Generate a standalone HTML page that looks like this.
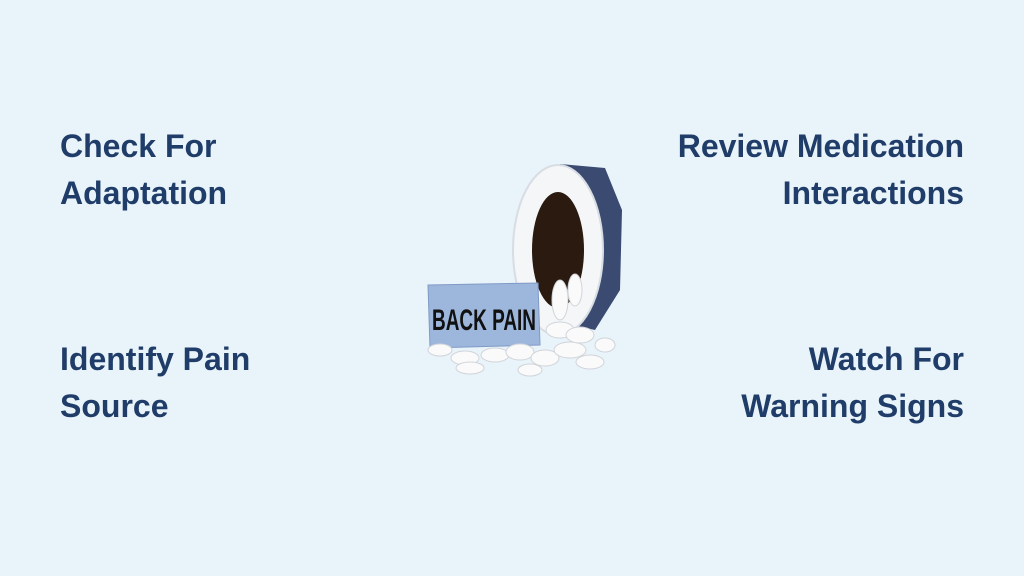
<!DOCTYPE html>
<html><head><style>
body{margin:0;width:1024px;height:576px;background:#e9f4fa;position:relative;overflow:hidden;font-family:"Liberation Sans",sans-serif;}
.t{position:absolute;color:#1f3d68;font-weight:bold;font-size:32px;line-height:47px;}
.l{left:60px;text-align:left}
.r{right:60px;text-align:right}
</style></head><body>
<div class="t l" style="top:123px">Check For<br>Adaptation</div>
<div class="t r" style="top:123px">Review Medication<br>Interactions</div>
<div class="t l" style="top:336px">Identify Pain<br>Source</div>
<div class="t r" style="top:336px">Watch For<br>Warning Signs</div>
<svg style="position:absolute;left:410px;top:150px" width="220" height="230" viewBox="0 0 220 230">
<path d="M150 14 L195 18 L212 60 L210 140 L185 180 L140 170 Z" fill="#3a4a70"/>
<ellipse cx="148" cy="100" rx="45" ry="85" fill="#f4f6f8" stroke="#d8dde4" stroke-width="2"/>
<ellipse cx="148" cy="100" rx="26" ry="58" fill="#2a1a10"/>
<path d="M18 135 L128 133 L130 195 L20 198 Z" fill="#9db6dc" stroke="#7f9ac6"/>
<text x="74" y="180" font-family="Liberation Sans, sans-serif" font-weight="bold" font-size="30" text-anchor="middle" fill="#111" textLength="104" lengthAdjust="spacingAndGlyphs">BACK PAIN</text>
<g fill="#fafafa" stroke="#d0d4da">
<ellipse cx="150" cy="150" rx="8" ry="20"/><ellipse cx="165" cy="140" rx="7" ry="16"/>
<ellipse cx="30" cy="200" rx="12" ry="6"/><ellipse cx="55" cy="208" rx="14" ry="7"/>
<ellipse cx="85" cy="205" rx="14" ry="7"/><ellipse cx="110" cy="202" rx="14" ry="8"/>
<ellipse cx="135" cy="208" rx="14" ry="8"/><ellipse cx="160" cy="200" rx="16" ry="8"/>
<ellipse cx="180" cy="212" rx="14" ry="7"/><ellipse cx="195" cy="195" rx="10" ry="7"/>
<ellipse cx="150" cy="180" rx="14" ry="8"/><ellipse cx="170" cy="185" rx="14" ry="8"/>
<ellipse cx="60" cy="218" rx="14" ry="6"/><ellipse cx="120" cy="220" rx="12" ry="6"/>
</g>
</svg>
</body></html>
